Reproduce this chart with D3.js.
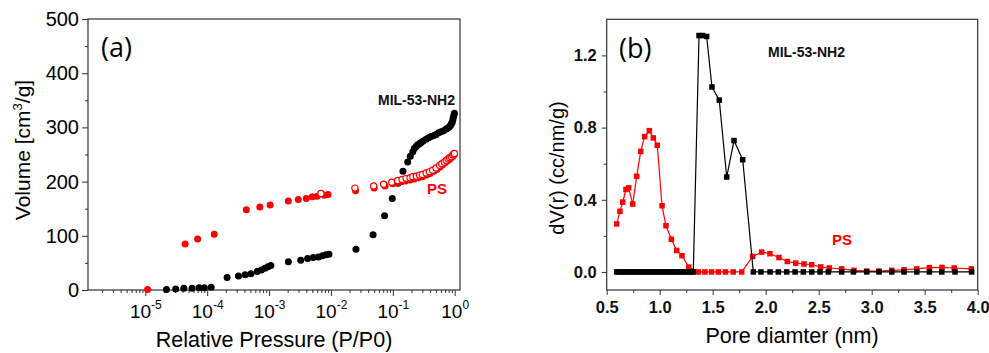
<!DOCTYPE html>
<html>
<head>
<meta charset="utf-8">
<script src="https://cdn.jsdelivr.net/npm/d3@7"></script>
<style>
  body { margin: 0; background: #fff; }
  svg { display: block; font-family: "Liberation Sans", Arial, sans-serif; }
</style>
</head>
<body>
<div id="chart"></div>
<script>
// ---- panel (a): N2 isotherm, [P/P0, volume] ----
const milAds = [
  [2.2e-5, 1], [3.1e-5, 2], [4.2e-5, 3], [5.7e-5, 3], [7.4e-5, 4], [9.0e-5, 4], [1.16e-4, 5],
  [2.1e-4, 23], [3.2e-4, 26], [4.1e-4, 28], [5.1e-4, 30], [6.4e-4, 34], [7.5e-4, 37], [8.6e-4, 40], [9.6e-4, 43], [1.07e-3, 45],
  [2.05e-3, 52], [3.25e-3, 55], [4.2e-3, 58], [5.2e-3, 60], [6.3e-3, 61], [7.3e-3, 63], [8.3e-3, 65], [9.3e-3, 66],
  [0.0254, 75], [0.048, 102], [0.0736, 137], [0.098, 169], [0.121, 197], [0.146, 219], [0.174, 236],
  [0.192, 247], [0.21, 255], [0.223, 261], [0.24, 265], [0.252, 268], [0.27, 270], [0.286, 272], [0.31, 275],
  [0.345, 278], [0.38, 281], [0.416, 283], [0.46, 285], [0.5, 287], [0.55, 290], [0.6, 292], [0.66, 294],
  [0.73, 297], [0.78, 299], [0.82, 301], [0.86, 304], [0.89, 307], [0.91, 309], [0.93, 313], [0.95, 318],
  [0.97, 322], [0.99, 326]
]
const psAds = [
  [1.09e-5, 1], [4.4e-5, 85], [7.0e-5, 94], [1.3e-4, 103],
  [4.3e-4, 148], [7.1e-4, 153], [1.04e-3, 157], [2.05e-3, 164], [2.97e-3, 167], [4.0e-3, 169], [5.0e-3, 172],
  [6.0e-3, 173], [7.8e-3, 175], [9.0e-3, 176],
  [0.025, 183], [0.05, 188], [0.075, 192], [0.1, 196], [0.12, 198], [0.14, 200], [0.16, 201], [0.19, 203],
  [0.22, 205], [0.26, 207], [0.3, 209], [0.35, 212], [0.4, 215], [0.46, 219], [0.52, 223], [0.58, 227],
  [0.64, 231], [0.7, 235], [0.76, 238], [0.82, 241], [0.88, 244], [0.94, 247], [0.99, 250]
]
const psDes = [
  [0.0069, 178], [0.0244, 188], [0.049, 192], [0.071, 195], [0.096, 199], [0.12, 202], [0.141, 204],
  [0.164, 206], [0.19, 207], [0.21, 209], [0.24, 210], [0.27, 212], [0.3, 213], [0.345, 216], [0.39, 218],
  [0.44, 221], [0.5, 225], [0.57, 230], [0.62, 233], [0.68, 236], [0.73, 239], [0.78, 242], [0.83, 244],
  [0.88, 246], [0.93, 249], [0.97, 251], [0.99, 252]
]
const volTicks = [0, 100, 200, 300, 400, 500]
const volMinor = [50, 150, 250, 350, 450]
const pressExp = [-5, -4, -3, -2, -1, 0]

// ---- panel (b): pore size distribution, [diameter, dV] ----
const psPore = [
  [0.594, 0.266], [0.625, 0.336], [0.651, 0.387], [0.682, 0.457], [0.707, 0.466], [0.745, 0.376],
  [0.783, 0.530], [0.821, 0.668], [0.858, 0.750], [0.902, 0.783], [0.940, 0.743], [0.977, 0.702],
  [1.022, 0.367], [1.059, 0.256], [1.110, 0.181], [1.160, 0.119], [1.210, 0.090], [1.274, 0.027],
  [1.365, 0], [1.427, 0], [1.490, 0], [1.553, 0], [1.620, 0], [1.694, 0], [1.774, 0],
  [1.877, 0.086], [1.962, 0.110], [2.040, 0.101], [2.125, 0.080], [2.204, 0.058], [2.283, 0.049],
  [2.361, 0.044], [2.434, 0.040], [2.519, 0.028], [2.600, 0.022], [2.717, 0.017], [2.833, 0.009],
  [2.953, 0.005], [3.069, 0.005], [3.189, 0.009], [3.305, 0.012], [3.425, 0.017], [3.544, 0.024],
  [3.663, 0.025], [3.778, 0.022], [3.940, 0.017]
]
const milPore = [
  [0.594, 0], [0.62, 0], [0.645, 0], [0.67, 0], [0.695, 0], [0.72, 0], [0.745, 0], [0.77, 0], [0.795, 0],
  [0.82, 0], [0.845, 0], [0.87, 0], [0.895, 0], [0.92, 0], [0.945, 0], [0.97, 0], [0.995, 0], [1.02, 0],
  [1.045, 0], [1.07, 0], [1.095, 0], [1.12, 0], [1.145, 0], [1.17, 0], [1.195, 0], [1.22, 0], [1.245, 0],
  [1.27, 0], [1.295, 0], [1.317, 0],
  [1.371, 1.310], [1.405, 1.310], [1.443, 1.305], [1.493, 1.025], [1.562, 0.952], [1.632, 0.526],
  [1.701, 0.728], [1.783, 0.622],
  [1.883, 0], [1.955, 0], [2.041, 0], [2.12, 0], [2.198, 0], [2.277, 0], [2.355, 0], [2.434, 0],
  [2.513, 0], [2.591, 0], [2.717, 0], [2.827, 0], [2.953, 0], [3.069, 0], [3.189, 0], [3.305, 0],
  [3.425, 0], [3.544, 0], [3.661, 0], [3.786, 0], [3.943, 0]
]
const dvTicks = [0, 0.4, 0.8, 1.2]
const dvMinor = [0.2, 0.6, 1.0]
const poreTicks = [0.5, 1.0, 1.5, 2.0, 2.5, 3.0, 3.5, 4.0]
const poreMinor = [0.75, 1.25, 1.75, 2.25, 2.75, 3.25, 3.75]

const W = 989, H = 353
const RED = "#ff0000"
const FRAME = "#333"

const svg = d3.select("#chart").append("svg")
  .attr("width", W).attr("height", H)

// ================= panel (a) =================
const A = { left: 88, right: 460, top: 19, bottom: 290 }
const xa = d3.scaleLog().domain([Math.pow(10, -5.926), Math.pow(10, 0.086)]).range([A.left, A.right])
const ya = d3.scaleLinear().domain([0, 500]).range([A.bottom, A.top])

const ga = svg.append("g")

// minor log ticks
const logMinor = []
for (let e = -6; e <= 0; e++) {
  for (let m = 2; m <= 9; m++) {
    const v = m * Math.pow(10, e)
    if (v > xa.domain()[0] && v < xa.domain()[1]) logMinor.push(v)
  }
}
ga.append("g").attr("transform", "translate(0," + A.bottom + ")")
  .call(d3.axisBottom(xa).tickValues(logMinor).tickSize(3).tickFormat(""))
ga.append("g").attr("transform", "translate(0," + A.bottom + ")")
  .call(d3.axisBottom(xa).tickValues(pressExp.map(e => Math.pow(10, e))).tickSize(6).tickFormat(""))
  .call(g => g.selectAll(".tick").append("text")
    .attr("fill", "#000").attr("y", 28).attr("text-anchor", "middle")
    .style("font-size", "19px")
    .each(function (d) {
      const t = d3.select(this)
      const e = Math.round(Math.log10(d))
      t.append("tspan").text("10")
      t.append("tspan").attr("dy", -9).style("font-size", "12px").text(String(e))
    }))

ga.append("g").attr("transform", "translate(" + A.left + ",0)")
  .call(d3.axisLeft(ya).tickValues(volMinor).tickSize(3).tickFormat(""))
ga.append("g").attr("transform", "translate(" + A.left + ",0)")
  .call(d3.axisLeft(ya).tickValues(volTicks).tickSize(6).tickPadding(3))
  .call(g => g.selectAll("text").style("font-size", "20px").attr("fill", "#000"))

ga.selectAll(".domain").remove()
ga.selectAll(".tick line").attr("stroke", FRAME)
ga.append("rect").attr("x", A.left).attr("y", A.top)
  .attr("width", A.right - A.left).attr("height", A.bottom - A.top)
  .attr("fill", "none").attr("stroke", FRAME).attr("stroke-width", 1.2)

// points
ga.append("g").selectAll("circle").data(milAds).join("circle")
  .attr("cx", d => xa(d[0])).attr("cy", d => ya(d[1])).attr("r", 3.5).attr("fill", "#000")
ga.append("g").selectAll("circle").data(psAds).join("circle")
  .attr("cx", d => xa(d[0])).attr("cy", d => ya(d[1])).attr("r", 3.5).attr("fill", RED)
ga.append("g").selectAll("circle").data(psDes).join("circle")
  .attr("cx", d => xa(d[0])).attr("cy", d => ya(d[1])).attr("r", 3.1)
  .attr("fill", "#fff").attr("stroke", RED).attr("stroke-width", 1.2)

// labels
ga.append("text").attr("x", 101).attr("y", 57).style("font-family", "'Open Sans', sans-serif")
  .style("font-size", "27px").text("(a)")
ga.append("text").attr("x", 455).attr("y", 105).attr("text-anchor", "end")
  .style("font-size", "14px").style("font-weight", "bold").attr("fill", "#111").text("MIL-53-NH2")
ga.append("text").attr("x", 427).attr("y", 194).attr("fill", RED)
  .style("font-size", "15px").style("font-weight", "bold").text("PS")
ga.append("text").attr("x", 274).attr("y", 347).attr("text-anchor", "middle")
  .style("font-size", "21.5px").text("Relative Pressure (P/P0)")
const yt = ga.append("text").attr("transform", "translate(30,150) rotate(-90)")
  .attr("text-anchor", "middle").style("font-size", "21px")
yt.append("tspan").text("Volume [cm")
yt.append("tspan").attr("dy", -8).style("font-size", "13px").text("3")
yt.append("tspan").attr("dy", 8).text("/g]")

// ================= panel (b) =================
const B = { left: 606.7, right: 977.7, top: 19.3, bottom: 290 }
const xb = d3.scaleLinear().domain([0.5, 4.0]).range([B.left, B.right])
const yb = d3.scaleLinear().domain([-0.1, 1.4]).range([B.bottom, B.top])

const gb = svg.append("g")
gb.append("g").attr("transform", "translate(0," + B.bottom + ")")
  .call(d3.axisBottom(xb).tickValues(poreMinor).tickSize(3).tickFormat(""))
gb.append("g").attr("transform", "translate(0," + B.bottom + ")")
  .call(d3.axisBottom(xb).tickValues(poreTicks).tickSize(5).tickPadding(6).tickFormat(d3.format(".1f")))
  .call(g => g.selectAll("text").style("font-size", "16.5px").style("font-weight", "bold").attr("fill", "#111"))
gb.append("g").attr("transform", "translate(" + B.left + ",0)")
  .call(d3.axisLeft(yb).tickValues(dvMinor).tickSize(3).tickFormat(""))
gb.append("g").attr("transform", "translate(" + B.left + ",0)")
  .call(d3.axisLeft(yb).tickValues(dvTicks).tickSize(5).tickPadding(5).tickFormat(d3.format(".1f")))
  .call(g => g.selectAll("text").style("font-size", "16.5px").style("font-weight", "bold").attr("fill", "#111"))
gb.selectAll(".domain").remove()
gb.selectAll(".tick line").attr("stroke", FRAME)
gb.append("rect").attr("x", B.left).attr("y", B.top)
  .attr("width", B.right - B.left).attr("height", B.bottom - B.top)
  .attr("fill", "none").attr("stroke", FRAME).attr("stroke-width", 1.2)

const lineB = d3.line().x(d => xb(d[0])).y(d => yb(d[1]))
const SQ = 5.5

gb.append("path").datum(psPore).attr("d", lineB)
  .attr("fill", "none").attr("stroke", RED).attr("stroke-width", 1.2)
gb.append("g").selectAll("rect").data(psPore).join("rect")
  .attr("x", d => xb(d[0]) - SQ / 2).attr("y", d => yb(d[1]) - SQ / 2)
  .attr("width", SQ).attr("height", SQ).attr("fill", RED)

gb.append("path").datum(milPore).attr("d", lineB)
  .attr("fill", "none").attr("stroke", "#000").attr("stroke-width", 1.2)
gb.append("g").selectAll("rect").data(milPore).join("rect")
  .attr("x", d => xb(d[0]) - SQ / 2).attr("y", d => yb(d[1]) - SQ / 2)
  .attr("width", SQ).attr("height", SQ).attr("fill", "#000")

gb.append("text").attr("x", 619).attr("y", 58).style("font-family", "'Open Sans', sans-serif")
  .style("font-size", "27px").text("(b)")
gb.append("text").attr("x", 768).attr("y", 57)
  .style("font-size", "14px").style("font-weight", "bold").attr("fill", "#111").text("MIL-53-NH2")
gb.append("text").attr("x", 832).attr("y", 245).attr("fill", RED)
  .style("font-size", "15px").style("font-weight", "bold").text("PS")
gb.append("text").attr("x", 792).attr("y", 343).attr("text-anchor", "middle")
  .style("font-size", "21.5px").text("Pore diamter (nm)")
gb.append("text").attr("transform", "translate(564,168) rotate(-90)")
  .attr("text-anchor", "middle").style("font-size", "20px").text("dV(r) (cc/nm/g)")
</script>
</body>
</html>
